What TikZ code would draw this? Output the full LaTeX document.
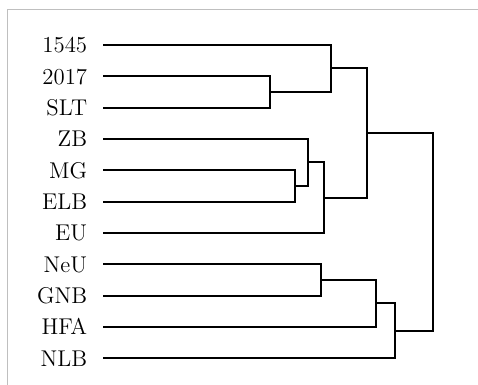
\documentclass[tikz,border=0pt]{standalone}
\begin{document}
\begin{tikzpicture}[x=0.5bp,y=-0.5bp,
  lbl/.style={anchor=base east,inner sep=0pt,font=\fontsize{11.4bp}{13bp}\selectfont},
  branch/.style={line width=1bp,line join=miter},
  frameline/.style={line width=0.6bp,draw=black!25}]
\useasboundingbox (0,0) rectangle (478,385);
\draw[frameline] (7.5,385) -- (7.5,9.5) -- (478,9.5);
% leaves
\foreach \nm/\txt [count=\k from 0] in {l0/1545,l1/2017,l2/SLT,l3/ZB,l4/MG,l5/ELB,l6/EU,l7/NeU,l8/GNB,l9/HFA,l10/NLB}{
  \pgfmathsetmacro{\yy}{45+31.333*\k}
  \node[lbl] (t\nm) at (87.5,\yy+7.7) {\txt};
  \coordinate (\nm) at (103.3,\yy);
}
% merge points
\coordinate (a) at (270,92);
\coordinate (b) at (331,68.5);
\coordinate (c) at (295,186);
\coordinate (d) at (308,162.5);
\coordinate (e) at (324,197.75);
\coordinate (f) at (366.7,133.1);
\coordinate (g) at (320.7,280);
\coordinate (h) at (376.3,303.5);
\coordinate (i) at (395.3,330.9);
\coordinate (r) at (432.7,232);
\draw[branch] (l1) -| (a) |- (l2);
\draw[branch] (l0) -| (b) |- (a);
\draw[branch] (l4) -| (c) |- (l5);
\draw[branch] (l3) -| (d) |- (c);
\draw[branch] (d) -| (e) |- (l6);
\draw[branch] (b) -| (f) |- (e);
\draw[branch] (l7) -| (g) |- (l8);
\draw[branch] (g) -| (h) |- (l9);
\draw[branch] (h) -| (i) |- (l10);
\draw[branch] (f) -| (r) |- (i);
\end{tikzpicture}
\end{document}
